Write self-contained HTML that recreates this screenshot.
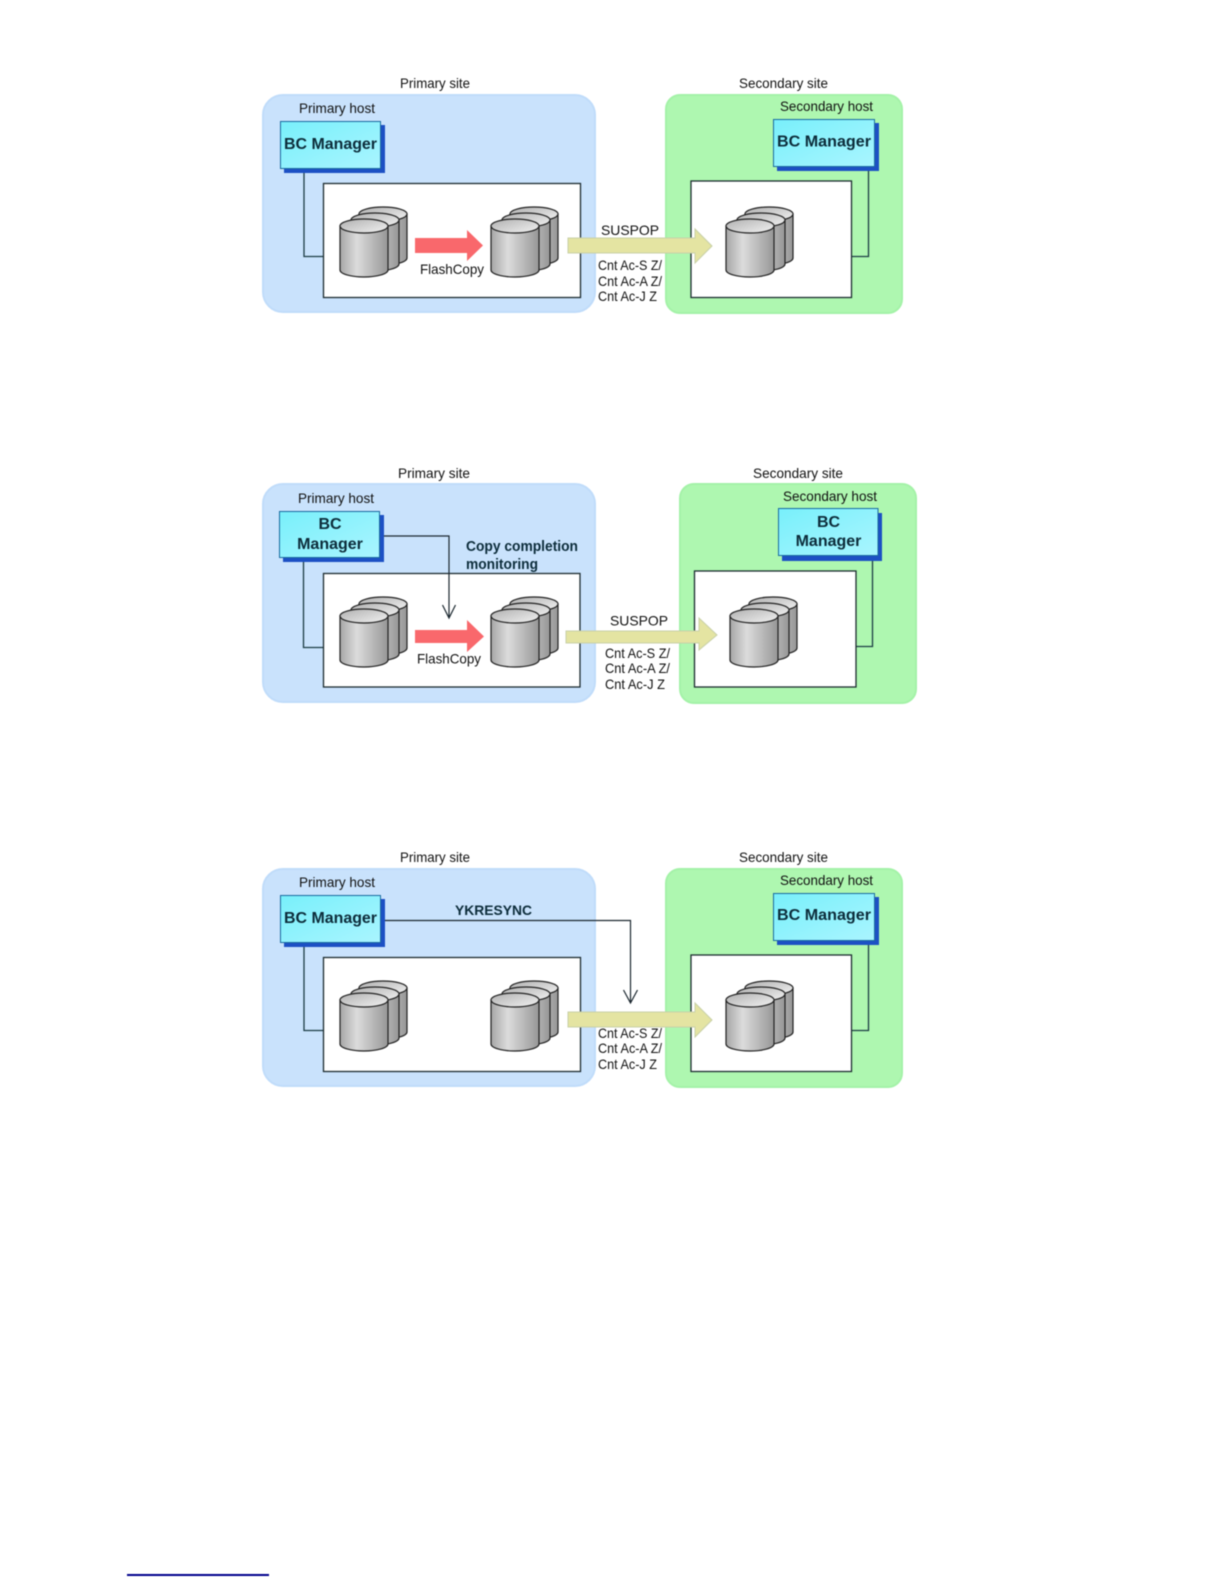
<!DOCTYPE html>
<html><head><meta charset="utf-8"><style>
html,body{margin:0;padding:0;background:#fff;width:1224px;height:1584px;overflow:hidden}
svg{display:block;filter:blur(.45px)}
text{font-family:"Liberation Sans",sans-serif;font-size:14px;fill:#111}
.b{font-weight:bold;fill:#0c2c3a;font-size:16px}
</style></head><body>
<svg width="1224" height="1584" viewBox="0 0 1224 1584" xmlns="http://www.w3.org/2000/svg">
<defs>
<linearGradient id="gc" x1="0" x2="1" y1="0" y2="0"><stop offset="0" stop-color="#a6a6a6"/><stop offset=".35" stop-color="#dcdcdc"/><stop offset="1" stop-color="#979797"/></linearGradient>
<linearGradient id="gt" x1="0" x2="1" y1="0" y2="1"><stop offset="0" stop-color="#b0b0b0"/><stop offset="1" stop-color="#f2f2f2"/></linearGradient>
<linearGradient id="gb" x1="0" x2="1" y1="0" y2="1"><stop offset="0" stop-color="#78f0fb"/><stop offset="1" stop-color="#aaf5ff"/></linearGradient>
<g id="cyl"><path d="M0 7V51A24 7 0 0 0 48 51V7Z" fill="url(#gc)" stroke="#222" stroke-width="1.2"/><ellipse cx="24" cy="7" rx="24" ry="7" fill="url(#gt)" stroke="#222" stroke-width="1.2"/></g>
<g id="stack"><use href="#cyl" x="19" y="-12" /><use href="#cyl" x="11" y="-6"/><use href="#cyl"/></g>
</defs>

<!-- Diagram 1 -->
<rect x="263" y="95" width="332" height="217" rx="20" fill="#c9e2fc" stroke="#c0dcfa" stroke-width="2"/>
<rect x="666" y="95" width="236" height="218" rx="14" fill="#aef7b0" stroke="#a4f2a8" stroke-width="2"/>
<text x="400" y="88" textLength="70" lengthAdjust="spacingAndGlyphs">Primary site</text>
<text x="739" y="88" textLength="89" lengthAdjust="spacingAndGlyphs">Secondary site</text>
<text x="299" y="113" textLength="76" lengthAdjust="spacingAndGlyphs">Primary host</text>
<text x="780" y="111" textLength="93" lengthAdjust="spacingAndGlyphs">Secondary host</text>
<rect x="284" y="125" width="101" height="48" fill="#1c50c4"/>
<rect x="280.500" y="121.500" width="100" height="47" fill="url(#gb)" stroke="#1a6aa0"/>
<text class="b" x="284" y="149" textLength="93" lengthAdjust="spacingAndGlyphs">BC Manager</text>
<rect x="777" y="123" width="102" height="48" fill="#1c50c4"/>
<rect x="773.500" y="119.500" width="101" height="47" fill="url(#gb)" stroke="#1a6aa0"/>
<text class="b" x="777" y="146.500" textLength="94" lengthAdjust="spacingAndGlyphs">BC Manager</text>
<path d="M304 173V256.500H323M868.500 171V256.500H852" fill="none" stroke="#1c3c44" stroke-width="1.3"/>
<rect x="323.500" y="183.500" width="257" height="114" fill="#fff" stroke="#1c2c30" stroke-width="1.3"/>
<rect x="691" y="181" width="160.500" height="116.500" fill="#fff" stroke="#1c2c30" stroke-width="1.3"/>
<use href="#stack" x="340" y="219"/><use href="#stack" x="491" y="219"/><use href="#stack" x="726" y="219"/>
<path d="M415 238H467V230L483 245.500L467 261V253H415Z" fill="#f9686c"/>
<text x="420" y="274" textLength="64" lengthAdjust="spacingAndGlyphs">FlashCopy</text>
<path d="M568 238H695V229L712 246L695 263V253H568Z" fill="#e4e4a2" stroke="#c8d0a8"/>
<text x="601" y="235" textLength="58" lengthAdjust="spacingAndGlyphs">SUSPOP</text>
<text x="598" y="270" textLength="64" lengthAdjust="spacingAndGlyphs">Cnt Ac-S Z/</text>
<text x="598" y="286" textLength="64" lengthAdjust="spacingAndGlyphs">Cnt Ac-A Z/</text>
<text x="598" y="301" textLength="59" lengthAdjust="spacingAndGlyphs">Cnt Ac-J Z</text>

<!-- Diagram 2 -->
<rect x="263" y="484" width="332" height="218" rx="20" fill="#c9e2fc" stroke="#c0dcfa" stroke-width="2"/>
<rect x="680" y="484" width="236" height="219" rx="14" fill="#aef7b0" stroke="#a4f2a8" stroke-width="2"/>
<text x="398" y="478" textLength="72" lengthAdjust="spacingAndGlyphs">Primary site</text>
<text x="753" y="478" textLength="90" lengthAdjust="spacingAndGlyphs">Secondary site</text>
<text x="298" y="503" textLength="76" lengthAdjust="spacingAndGlyphs">Primary host</text>
<text x="783" y="501" textLength="94" lengthAdjust="spacingAndGlyphs">Secondary host</text>
<rect x="283" y="515" width="101" height="47" fill="#1c50c4"/>
<rect x="279.500" y="511.500" width="100" height="46" fill="url(#gb)" stroke="#1a6aa0"/>
<text class="b" x="330" y="529" text-anchor="middle">BC</text>
<text class="b" x="330" y="549" text-anchor="middle">Manager</text>
<rect x="782" y="513" width="100" height="48" fill="#1c50c4"/>
<rect x="778.500" y="508.500" width="99.500" height="47" fill="url(#gb)" stroke="#1a6aa0"/>
<text class="b" x="828.500" y="527" text-anchor="middle">BC</text>
<text class="b" x="828.500" y="546" text-anchor="middle">Manager</text>
<path d="M303.500 562V647.500H323M872.500 561V646.500H856" fill="none" stroke="#1c3c44" stroke-width="1.3"/>
<rect x="323.500" y="573.500" width="256.500" height="113.500" fill="#fff" stroke="#1c2c30" stroke-width="1.3"/>
<rect x="694.500" y="571" width="161.500" height="116" fill="#fff" stroke="#1c2c30" stroke-width="1.3"/>
<use href="#stack" x="340" y="609"/><use href="#stack" x="491" y="609"/><use href="#stack" x="730" y="609"/>
<path d="M415 630H467V620L484 636.500L467 652V643H415Z" fill="#f9686c"/>
<path d="M384 536H449V618M442.500 605L449 618L455.500 605" fill="none" stroke="#1c2830" stroke-width="1.2"/>
<text x="417" y="663.500" textLength="64" lengthAdjust="spacingAndGlyphs">FlashCopy</text>
<text class="b" x="466" y="551" style="font-size:14.500px" textLength="112" lengthAdjust="spacingAndGlyphs">Copy completion</text>
<text class="b" x="466" y="569" style="font-size:14.500px" textLength="72" lengthAdjust="spacingAndGlyphs">monitoring</text>
<path d="M566 631H699V618L717 635L699 650V643H566Z" fill="#e4e4a2" stroke="#c8d0a8"/>
<text x="610" y="625.500" textLength="58" lengthAdjust="spacingAndGlyphs">SUSPOP</text>
<text x="605" y="658" textLength="65" lengthAdjust="spacingAndGlyphs">Cnt Ac-S Z/</text>
<text x="605" y="673" textLength="65" lengthAdjust="spacingAndGlyphs">Cnt Ac-A Z/</text>
<text x="605" y="689" textLength="60" lengthAdjust="spacingAndGlyphs">Cnt Ac-J Z</text>

<!-- Diagram 3 -->
<rect x="263" y="869" width="332" height="217" rx="20" fill="#c9e2fc" stroke="#c0dcfa" stroke-width="2"/>
<rect x="666" y="869" width="236" height="218" rx="14" fill="#aef7b0" stroke="#a4f2a8" stroke-width="2"/>
<text x="400" y="862" textLength="70" lengthAdjust="spacingAndGlyphs">Primary site</text>
<text x="739" y="862" textLength="89" lengthAdjust="spacingAndGlyphs">Secondary site</text>
<text x="299" y="887" textLength="76" lengthAdjust="spacingAndGlyphs">Primary host</text>
<text x="780" y="885" textLength="93" lengthAdjust="spacingAndGlyphs">Secondary host</text>
<rect x="284" y="899" width="101" height="48" fill="#1c50c4"/>
<rect x="280.500" y="895.500" width="100" height="47" fill="url(#gb)" stroke="#1a6aa0"/>
<text class="b" x="284" y="923" textLength="93" lengthAdjust="spacingAndGlyphs">BC Manager</text>
<rect x="777" y="897" width="102" height="48" fill="#1c50c4"/>
<rect x="773.500" y="893.500" width="101" height="47" fill="url(#gb)" stroke="#1a6aa0"/>
<text class="b" x="777" y="920" textLength="94" lengthAdjust="spacingAndGlyphs">BC Manager</text>
<path d="M304 947V1030.500H323M868.500 945V1030.500H852" fill="none" stroke="#1c3c44" stroke-width="1.3"/>
<rect x="323.500" y="957.500" width="257" height="114" fill="#fff" stroke="#1c2c30" stroke-width="1.3"/>
<rect x="691" y="955" width="160.500" height="116.500" fill="#fff" stroke="#1c2c30" stroke-width="1.3"/>
<use href="#stack" x="340" y="993"/><use href="#stack" x="491" y="993"/><use href="#stack" x="726" y="993"/>
<path d="M568 1012H695V1003L712 1020L695 1037V1027H568Z" fill="#e4e4a2" stroke="#c8d0a8"/>
<path d="M385 920.500H630.500V1003M623.500 990L630.500 1003L637.500 990" fill="none" stroke="#1c2830" stroke-width="1.2"/>
<text class="b" x="455" y="915" style="font-size:14px" textLength="77" lengthAdjust="spacingAndGlyphs">YKRESYNC</text>
<text x="598" y="1038" textLength="64" lengthAdjust="spacingAndGlyphs">Cnt Ac-S Z/</text>
<text x="598" y="1053" textLength="64" lengthAdjust="spacingAndGlyphs">Cnt Ac-A Z/</text>
<text x="598" y="1069" textLength="59" lengthAdjust="spacingAndGlyphs">Cnt Ac-J Z</text>

<rect x="127" y="1574" width="142" height="2" fill="#00008c"/>
</svg>
</body></html>
